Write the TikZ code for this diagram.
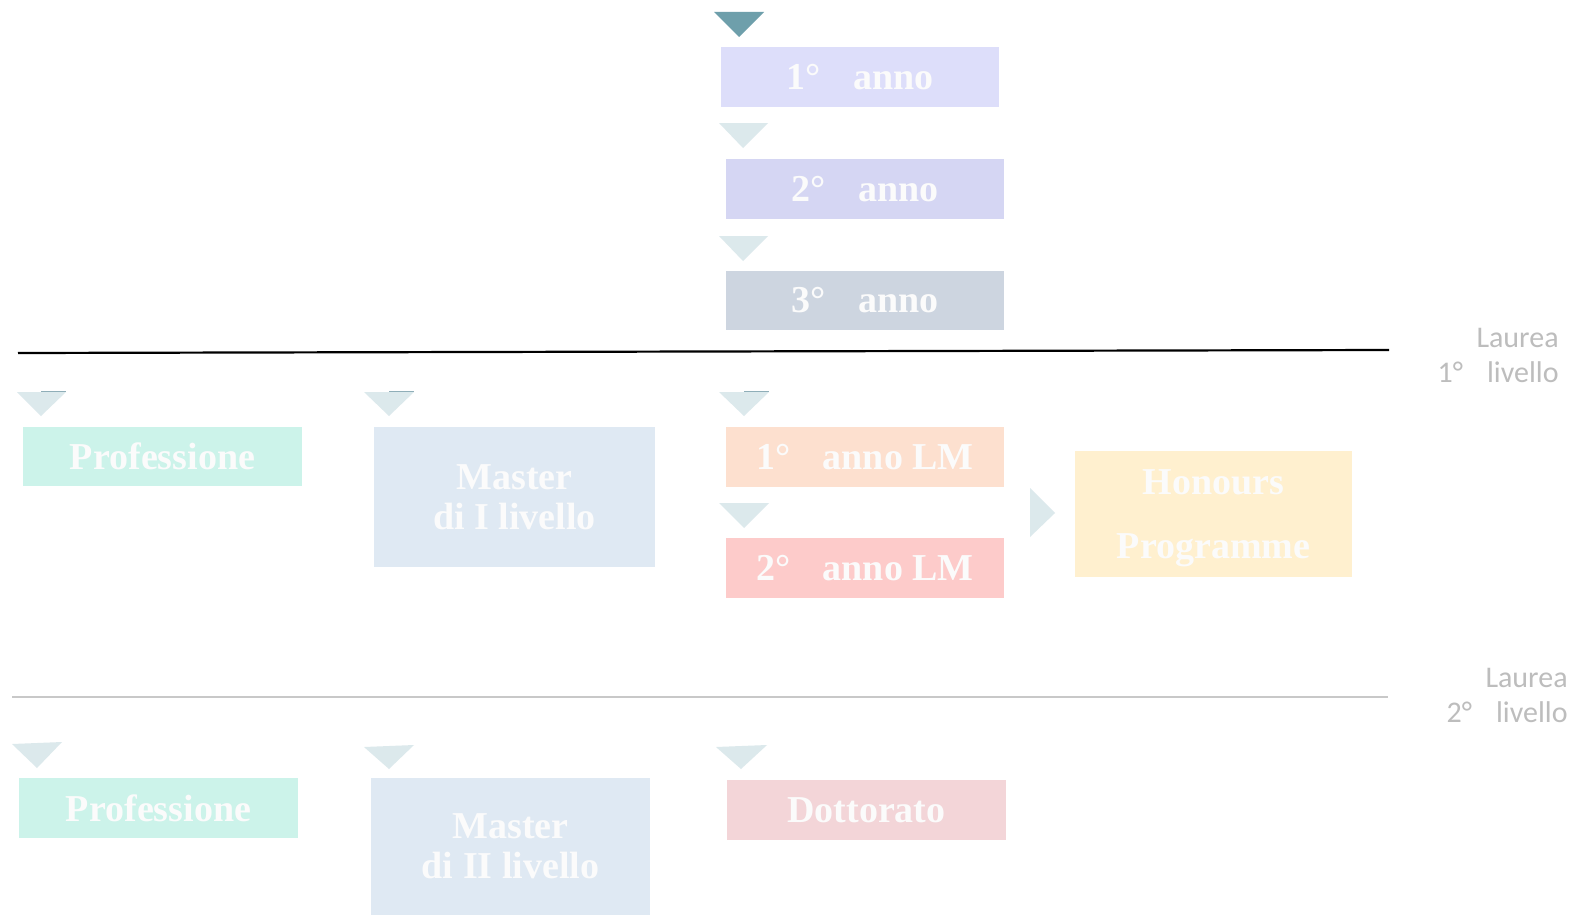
\documentclass[tikz,border=0pt]{standalone}
\usepackage{fontspec}
\setmainfont{Liberation Serif}
\newfontfamily\labfont{Carlito}
\definecolor{tridark}{HTML}{6E9FAB}
\definecolor{trilight}{HTML}{DCE9EC}
\definecolor{triedge}{HTML}{8FAEB8}
\definecolor{cA}{HTML}{DDDEFA}
\definecolor{cB}{HTML}{D5D6F3}
\definecolor{cC}{HTML}{CDD5E0}
\definecolor{cProf}{HTML}{CCF3EA}
\definecolor{cMast}{HTML}{DFE9F3}
\definecolor{cLMa}{HTML}{FDE0CF}
\definecolor{cLMb}{HTML}{FDCBCA}
\definecolor{cHon}{HTML}{FFF0CF}
\definecolor{cDott}{HTML}{F3D5D8}
\definecolor{labgray}{HTML}{BDBDBD}
\definecolor{line2}{HTML}{C8C8C8}
\definecolor{boxtext}{HTML}{FBFBFB}
\tikzset{
  stagebox/.style={rectangle, inner sep=0pt, text=boxtext, align=center,
    font=\bfseries\fontsize{19}{20}\selectfont},
  lablevel/.style={inner sep=0pt, text=labgray, font=\labfont\fontsize{15}{16}\selectfont, anchor=base east},
  marklight/.style={fill=trilight},
  markdark/.style={fill=tridark},
}
\begin{document}
\begin{tikzpicture}[x=0.5pt,y=-0.5pt]
\useasboundingbox (0,0) rectangle (1577,915);
\fill[white] (0,0) rectangle (1577,915);

% markers (down triangles)
\fill[markdark] (714,12) -- (764,12) -- (739,37) -- cycle;
\fill[marklight] (719,123) -- (768,123) -- (743,148) -- cycle;
\fill[marklight] (719,236) -- (768,236) -- (743,261) -- cycle;

\fill[marklight] (17,392) -- (66,392) -- (41,416) -- cycle;
\draw[triedge, line width=0.6pt] (41,391.5) -- (66,391.5);
\fill[marklight] (364,392) -- (414,392) -- (389,416) -- cycle;
\draw[triedge, line width=0.6pt] (389,391.5) -- (414,391.5);
\fill[marklight] (719,392) -- (769,392) -- (744,416) -- cycle;
\draw[triedge, line width=0.6pt] (744,391.5) -- (769,391.5);
\fill[marklight] (719,503) -- (769,503) -- (744,528) -- cycle;
\fill[marklight] (1030,488) -- (1030,537) -- (1055,513) -- cycle;

\fill[marklight] (12,744) -- (62,742) -- (37,768) -- cycle;
\fill[marklight] (364,747) -- (414,745) -- (389,769) -- cycle;
\fill[marklight] (716,747) -- (767,745) -- (741,769) -- cycle;

% boxes
\node[stagebox, fill=cA, minimum width=139pt, minimum height=30pt] (y1) at (860,77) {1°\hspace{0.85em}anno};
\node[stagebox, fill=cB, minimum width=139pt, minimum height=30pt] (y2) at (865,189) {2°\hspace{0.85em}anno};
\node[stagebox, fill=cC, minimum width=139pt, minimum height=29.5pt] (y3) at (865,300.5) {3°\hspace{0.85em}anno};

\node[stagebox, fill=cProf, minimum width=139.5pt, minimum height=29.5pt] (prof1) at (162.5,456.5) {Professione};
\node[stagebox, fill=cMast, minimum width=140.5pt, minimum height=70pt, text depth=0pt] (mast1) at (514.5,497) {Master\\di I livello};
\node[stagebox, fill=cLMa, minimum width=139pt, minimum height=30pt] (lm1) at (865,457) {1°\hspace{0.85em}anno LM};
\node[stagebox, fill=cLMb, minimum width=139pt, minimum height=30pt] (lm2) at (865,568) {2°\hspace{0.85em}anno LM};
\node[stagebox, fill=cHon, minimum width=138.5pt, minimum height=63pt, text depth=0pt] (hon) at (1213.5,514) {Honours\\[12pt]Programme};

\node[stagebox, fill=cProf, minimum width=139.5pt, minimum height=30pt] (prof2) at (158.5,808) {Professione};
\node[stagebox, fill=cMast, minimum width=139.5pt, minimum height=68.5pt, text depth=0pt] (mast2) at (510.5,846.5) {Master\\di II livello};
\node[stagebox, fill=cDott, minimum width=139.5pt, minimum height=30pt] (dott) at (866.5,810) {Dottorato};

% separator lines
\coordinate (l1a) at (18,353);
\coordinate (l1b) at (1389,350);
\draw[black, line width=1.1pt] (l1a) -- (l1b);
\coordinate (l2a) at (12,697);
\coordinate (l2b) at (1388,697);
\draw[line2, line width=1pt] (l2a) -- (l2b);

% level labels
\node[lablevel] (la1) at (1559,347) {Laurea};
\node[lablevel] (lb1) at (1559,382) {1°\hspace{0.8em}livello};
\node[lablevel] (la2) at (1568,687) {Laurea};
\node[lablevel] (lb2) at (1568,722) {2°\hspace{0.8em}livello};
\end{tikzpicture}
\end{document}
